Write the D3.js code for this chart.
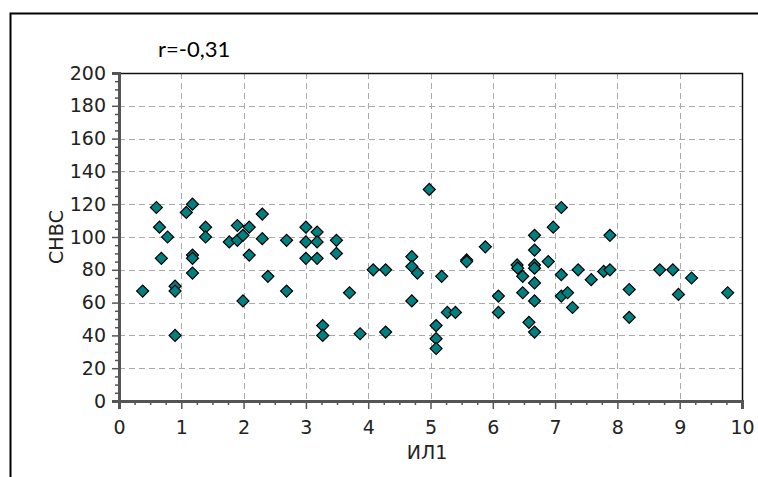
<!DOCTYPE html>
<html>
<head>
<meta charset="utf-8">
<script src="https://cdn.jsdelivr.net/npm/d3@7"></script>
<style>
  body { margin: 0; background: #fff; }
  svg { display: block; }
</style>
</head>
<body>
<div id="chart"></div>
<script>
// ИЛ1 values (x)
const il1 = [0.38, 0.60, 0.65, 0.78, 0.68, 0.90, 0.90, 0.90, 1.08, 1.18,
  1.18, 1.18, 1.18, 1.39, 1.39, 1.77, 1.90, 1.90, 1.99, 2.09,
  2.09, 1.99, 2.30, 2.30, 2.39, 2.69, 2.69, 3.00, 3.00, 3.00,
  3.18, 3.18, 3.18, 3.27, 3.27, 3.49, 3.49, 3.70, 3.87, 4.08,
  4.28, 4.28, 4.70, 4.70, 4.79, 4.70, 4.98, 5.09, 5.09, 5.09,
  5.18, 5.27, 5.40, 5.58, 5.58, 5.88, 6.09, 6.09, 6.39, 6.40,
  6.48, 6.48, 6.58, 6.67, 6.67, 6.67, 6.67, 6.67, 6.67, 6.67,
  6.89, 6.97, 7.10, 7.10, 7.10, 7.20, 7.28, 7.37, 7.58, 7.78,
  7.88, 7.88, 8.19, 8.19, 8.68, 8.89, 8.98, 9.19, 9.77];
// СНВС values (y)
const snvs = [67, 118, 106, 100, 87, 70, 67, 40, 115, 120,
  89, 87, 78, 106, 100, 97, 107, 98, 101, 106,
  89, 61, 114, 99, 76, 98, 67, 106, 97, 87,
  103, 97, 87, 46, 40, 98, 90, 66, 41, 80,
  80, 42, 88, 82, 78, 61, 129, 46, 38, 32,
  76, 54, 54, 86, 85, 94, 64, 54, 83, 81,
  76, 66, 48, 101, 92, 83, 81, 72, 61, 42,
  85, 106, 118, 77, 64, 66, 57, 80, 74, 79,
  80, 101, 68, 51, 80, 80, 65, 75, 66];

const xTicks = [0, 1, 2, 3, 4, 5, 6, 7, 8, 9, 10];
const yTicks = [0, 20, 40, 60, 80, 100, 120, 140, 160, 180, 200];
const title = "r=-0,31";
const xLabel = "ИЛ1";
const yLabel = "СНВС";

const W = 758, H = 477;
const pLeft = 119, pRight = 742, pTop = 73, pBottom = 401;

const svg = d3.select("#chart").append("svg")
  .attr("width", W).attr("height", H);

// outer frame (top and left edges only)
svg.append("path")
  .attr("d", `M10.5,${H} L10.5,13.5 L${W},13.5`)
  .attr("fill", "none").attr("stroke", "#000").attr("stroke-width", 2);

const x = d3.scaleLinear().domain([0, 10]).range([pLeft, pRight]);
const y = d3.scaleLinear().domain([0, 200]).range([pBottom, pTop]);

// grid
const grid = svg.append("g").attr("stroke", "#aaa").attr("stroke-width", 1)
  .attr("stroke-dasharray", "6,4");
grid.selectAll("line.v").data(xTicks.slice(1, -1)).enter().append("line")
  .attr("x1", d => Math.round(x(d)) + 0.5).attr("x2", d => Math.round(x(d)) + 0.5)
  .attr("y1", pTop).attr("y2", pBottom);
grid.selectAll("line.h").data(yTicks.slice(1, -1)).enter().append("line")
  .attr("y1", d => Math.round(y(d)) + 0.5).attr("y2", d => Math.round(y(d)) + 0.5)
  .attr("x1", pLeft).attr("x2", pRight);

// top + right border of the plot
svg.append("path")
  .attr("d", `M${pLeft},${pTop + 0.5} L${pRight + 0.5},${pTop + 0.5} L${pRight + 0.5},${pBottom}`)
  .attr("fill", "none").attr("stroke", "#111").attr("stroke-width", 1.5);

// axes
const font = "'DejaVu Sans', Verdana, sans-serif";

const xMinor = d3.range(0, 10.001, 0.25).filter(v => Math.abs(v - Math.round(v)) > 0.01);
const yMinor = d3.range(0, 200.1, 5).filter(v => v % 20 !== 0);

const xAxis = svg.append("g").attr("transform", `translate(0,${pBottom})`);
xAxis.call(d3.axisBottom(x).tickValues(xTicks).tickSize(8).tickPadding(12));
xAxis.append("g").call(d3.axisBottom(x).tickValues(xMinor).tickSize(4).tickFormat(""))
  .select(".domain").remove();

const yAxis = svg.append("g").attr("transform", `translate(${pLeft},0)`);
yAxis.call(d3.axisLeft(y).tickValues(yTicks).tickSize(7).tickPadding(6));
yAxis.append("g").call(d3.axisLeft(y).tickValues(yMinor).tickSize(4).tickFormat(""))
  .select(".domain").remove();

svg.selectAll(".tick line").attr("stroke", "#555").attr("stroke-width", 1.5);
svg.selectAll(".domain").attr("stroke", "#555").attr("stroke-width", 3);
svg.selectAll(".tick text")
  .attr("fill", "#222").style("font-family", font).style("font-size", "19px");

// markers
const diamond = d3.symbol().type(d3.symbolSquare).size(72);
svg.append("g").selectAll("path")
  .data(il1.map((v, i) => [v, snvs[i]]))
  .enter().append("path")
  .attr("d", diamond)
  .attr("transform", d => `translate(${x(d[0])},${y(d[1])}) rotate(45)`)
  .attr("fill", "#008080")
  .attr("stroke", "#000").attr("stroke-width", 1.2);

// labels
svg.append("text")
  .attr("x", 158).attr("y", 57)
  .style("font-family", "Lato, 'Open Sans', sans-serif").style("font-size", "22px")
  .attr("fill", "#000")
  .text(title);

svg.append("text")
  .attr("x", 427).attr("y", 459)
  .attr("text-anchor", "middle")
  .style("font-family", font).style("font-size", "19px")
  .attr("fill", "#222")
  .text(xLabel);

svg.append("text")
  .attr("transform", `translate(63,${(pTop + pBottom) / 2}) rotate(-90)`)
  .attr("text-anchor", "middle")
  .style("font-family", font).style("font-size", "19px")
  .attr("fill", "#222")
  .text(yLabel);
</script>
</body>
</html>
